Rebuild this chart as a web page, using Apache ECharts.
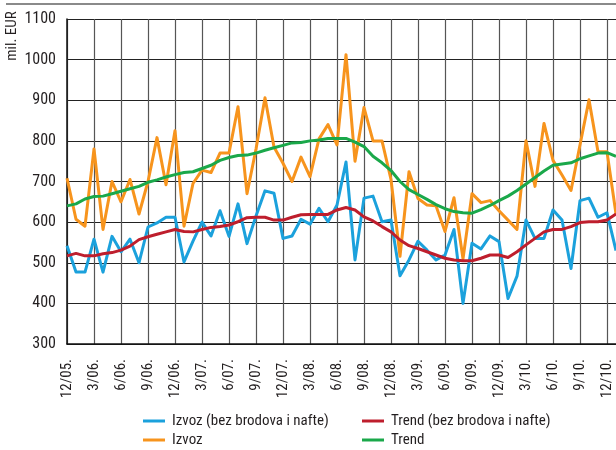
<!DOCTYPE html>
<html>
<head>
<meta charset="utf-8">
<script src="https://cdn.jsdelivr.net/npm/echarts@6/dist/echarts.min.js"></script>
<style>
  html, body { margin: 0; padding: 0; background: #fff; }
  #chart { width: 616px; height: 450px; }
</style>
</head>
<body>
<div id="chart"></div>
<script>
// Monthly export series, December 2005 onward (million EUR)
const startMonth = 12;
const startYear = 5;
const monthCount = 62;

const izvozBez = [542, 477, 477, 558, 477, 565, 527, 558, 500, 588, 598, 612, 612, 502, 553, 600, 566, 628, 565, 645,
  547, 615, 677, 671, 560, 566, 607, 595, 634, 601, 642, 748, 507, 659, 664, 601, 605, 468, 507, 553,
  531, 507, 519, 582, 400, 548, 534, 566, 552, 412, 467, 605, 560, 560, 630, 605, 486, 653, 659, 612,
  623, 530];

const izvoz = [708, 607, 590, 780, 582, 700, 650, 705, 620, 700, 808, 692, 825, 590, 695, 728, 722, 770, 770, 884,
  670, 780, 906, 785, 745, 700, 760, 712, 805, 840, 790, 1012, 750, 882, 800, 800, 705, 516, 724, 658,
  642, 640, 577, 660, 510, 670, 648, 653, 628, 605, 582, 800, 688, 843, 752, 716, 678, 790, 901, 773,
  773, 620];

const trendBez = [517, 523, 517, 517, 522, 525, 531, 541, 557, 564, 570, 576, 582, 577, 576, 582, 587, 589, 593, 601,
  611, 612, 612, 605, 605, 612, 618, 619, 619, 619, 630, 636, 630, 613, 603, 589, 576, 556, 542, 535,
  527, 519, 511, 507, 505, 505, 511, 519, 519, 513, 527, 544, 560, 576, 582, 582, 589, 599, 601, 601,
  605, 620];

const trend = [640, 645, 657, 663, 664, 670, 676, 682, 688, 698, 704, 711, 717, 722, 724, 732, 740, 752, 759, 764,
  765, 770, 777, 783, 789, 795, 796, 800, 802, 806, 806, 806, 797, 786, 762, 746, 727, 700, 680, 668,
  656, 643, 633, 626, 623, 622, 631, 641, 653, 664, 678, 694, 710, 726, 740, 743, 746, 756, 763, 770,
  771, 762];

const seriesNames = ['Izvoz (bez brodova i nafte)', 'Izvoz', 'Trend (bez brodova i nafte)', 'Trend'];
const seriesColors = ['#1ba1dc', '#f7941d', '#be1e2d', '#1aa84a'];

// month labels such as "12/05.", "3/06."
const months = [];
for (let i = 0; i < monthCount; i++) {
  const m = ((startMonth - 1 + i) % 12) + 1;
  const y = startYear + Math.floor((startMonth - 1 + i) / 12);
  months.push(m + '/' + String(y).padStart(2, '0') + '.');
}

const font = '"Roboto Condensed", Roboto, sans-serif';
const textColor = '#231f20';

const chart = echarts.init(document.getElementById('chart'), null, { renderer: 'canvas' });

function line(name, data, idx, z) {
  return {
    name: name,
    type: 'line',
    data: data,
    symbol: 'none',
    z: z,
    lineStyle: { width: 3, color: seriesColors[idx], join: 'round' },
    itemStyle: { color: seriesColors[idx] },
    animation: false
  };
}

const legendBase = {
  orient: 'vertical',
  top: 413,
  padding: 0,
  itemGap: 3,
  itemWidth: 22,
  itemHeight: 3,
  icon: 'rect',
  textStyle: { fontFamily: font, fontSize: 15, color: textColor, lineHeight: 16, padding: [0, 0, 0, 2] }
};

chart.setOption({
  animation: false,
  grid: { left: 67, top: 19, height: 325, width: 552, containLabel: false },
  xAxis: {
    type: 'category',
    data: months,
    boundaryGap: false,
    axisLine: { lineStyle: { color: '#111', width: 1.5 } },
    axisTick: { show: false },
    axisLabel: {
      interval: 2,
      rotate: 90,
      margin: 15,
      color: textColor,
      fontFamily: font,
      fontSize: 15
    },
    splitLine: { show: true, interval: 2, lineStyle: { color: '#555', width: 1.2 } }
  },
  yAxis: {
    type: 'value',
    min: 300,
    max: 1100,
    interval: 100,
    axisLine: { show: true, lineStyle: { color: '#111', width: 1.5 } },
    axisTick: { show: false },
    axisLabel: {
      margin: 11,
      color: textColor,
      fontFamily: font,
      fontSize: 16,
      formatter: function (v) { return String(v); }
    },
    splitLine: { lineStyle: { color: '#222', width: 1.2 } }
  },
  legend: [
    Object.assign({ data: [seriesNames[0], seriesNames[1]], left: 143 }, legendBase),
    Object.assign({ data: [seriesNames[2], seriesNames[3]], left: 362 }, legendBase)
  ],
  graphic: [
    {
      type: 'line',
      shape: { x1: 6, y1: 4, x2: 616, y2: 4 },
      style: { stroke: '#8a8a8a', lineWidth: 2 }
    },
    {
      type: 'text',
      x: 12.5,
      y: 36,
      rotation: Math.PI / 2,
      style: {
        text: 'mil. EUR',
        fontFamily: font,
        fontSize: 15,
        fill: textColor,
        align: 'center',
        verticalAlign: 'middle'
      }
    }
  ],
  series: [
    line(seriesNames[0], izvozBez, 0, 2),
    line(seriesNames[1], izvoz, 1, 3),
    line(seriesNames[2], trendBez, 2, 4),
    line(seriesNames[3], trend, 3, 5)
  ]
});
</script>
</body>
</html>
